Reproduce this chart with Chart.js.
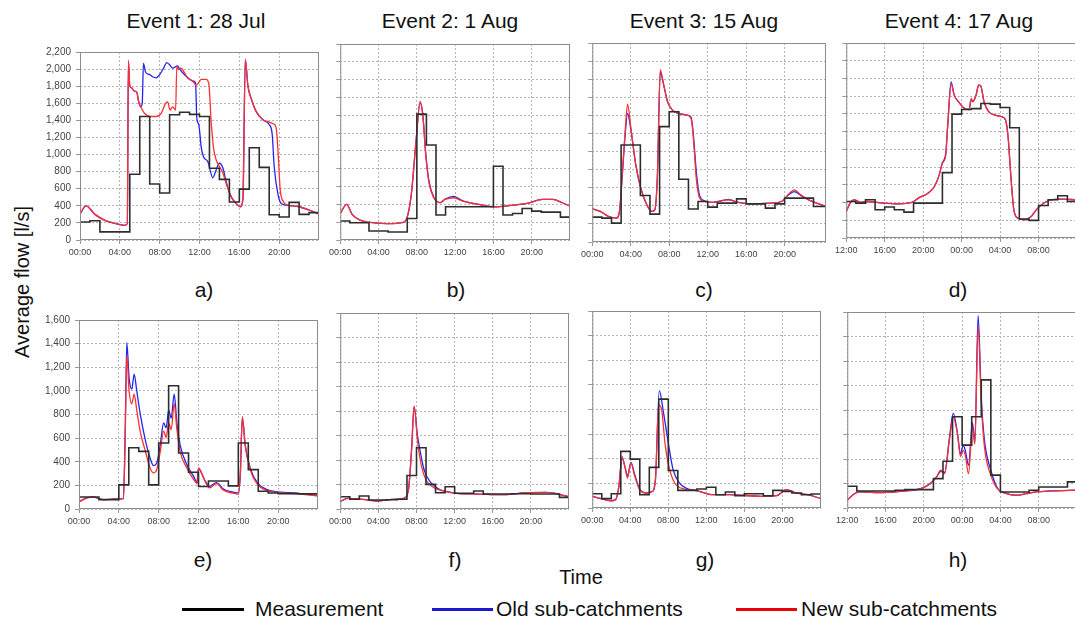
<!DOCTYPE html>
<html>
<head>
<meta charset="utf-8">
<script src="https://cdn.jsdelivr.net/npm/chart.js@4.4.1/dist/chart.umd.min.js"></script>
<style>
  body { margin: 0; background: #fff; font-family: "Liberation Sans", Arial, sans-serif; }
  #page { position: relative; width: 1075px; height: 623px; overflow: hidden; background: #fff; }
  canvas { position: absolute; }
  .t { position: absolute; color: #111; white-space: nowrap; transform: translate(-50%, -50%); font-size: 21px; }
  .leg { position: absolute; height: 3px; top: 608px; }
</style>
</head>
<body>
<div id="page">
  <div class="t" style="left:196px;top:21px">Event 1: 28 Jul</div>
  <div class="t" style="left:450px;top:21px">Event 2: 1 Aug</div>
  <div class="t" style="left:704px;top:21px">Event 3: 15 Aug</div>
  <div class="t" style="left:959px;top:21px">Event 4: 17 Aug</div>

  <div class="t" style="left:22px;top:282px;font-size:20px;transform:translate(-50%,-50%) rotate(-90deg)">Average flow [l/s]</div>

  <div class="t" style="left:204px;top:290px">a)</div>
  <div class="t" style="left:456px;top:290px">b)</div>
  <div class="t" style="left:704px;top:290px">c)</div>
  <div class="t" style="left:958px;top:290px">d)</div>
  <div class="t" style="left:203px;top:560px">e)</div>
  <div class="t" style="left:455px;top:560px">f)</div>
  <div class="t" style="left:705px;top:560px">g)</div>
  <div class="t" style="left:958px;top:560px">h)</div>

  <div class="t" style="left:581px;top:577px;font-size:20px">Time</div>

  <div class="leg" style="left:182px;width:62px;background:#000"></div>
  <div class="t" style="left:255px;top:609px;transform:translate(0,-50%)">Measurement</div>
  <div class="leg" style="left:432px;width:61px;background:#1a1acc"></div>
  <div class="t" style="left:496px;top:609px;transform:translate(0,-50%)">Old sub-catchments</div>
  <div class="leg" style="left:736px;width:61px;background:#e8000b"></div>
  <div class="t" style="left:801px;top:609px;transform:translate(0,-50%)">New sub-catchments</div>
</div>

<script>
// measured hourly averages (one value per hour, step line)
const measA = [210,225,95,95,95,770,1445,655,550,1465,1495,1470,1445,840,710,445,595,1080,850,295,270,440,300,320];
const measB = [213,194,194,101,101,90,90,242,1413,1066,280,373,373,373,373,373,828,280,298,354,324,313,313,257];
const measC = [275,264,209,1072,1072,514,308,1275,1440,694,364,448,386,430,430,477,422,422,375,422,485,485,485,393];
const measD = [412,394,431,319,349,319,292,394,394,394,738,1398,1450,1460,1518,1510,1473,1244,214,199,367,431,476,412];
const measE = [101,101,79,79,204,518,488,204,559,1044,474,311,191,237,237,196,559,333,150,135,130,130,128,128];
const measF = [100,79,106,73,73,75,80,274,500,201,133,182,128,128,147,122,122,122,125,125,122,122,122,95];
const measG = [116,76,116,460,397,108,330,884,305,143,143,154,168,108,130,100,116,116,100,143,135,122,108,114];
const measH = [177,139,139,139,139,145,150,150,150,240,382,745,513,745,1046,268,131,131,131,145,172,172,172,213];

// model results, [hour, flow]
const oldA = [[0,302],[0.6,400],[1.5,300],[2.5,230],[3.5,195],[4.45,172],[4.75,190],[4.86,2098],[5.0,1804],[5.2,1780],[5.4,1747],[5.7,1729],[5.9,1615],[6.1,1559],[6.25,1600],[6.37,2068],[6.6,1960],[7.0,1936],[7.3,1910],[7.64,1898],[8.0,1936],[8.4,2012],[8.7,2076],[9.0,2050],[9.3,2012],[9.8,2038],[10.0,2000],[10.66,1917],[11.3,1861],[11.6,1842],[11.73,1427],[11.93,1351],[12.17,1087],[12.4,974],[12.84,917],[13.34,728],[13.68,823],[14.0,898],[14.35,842],[14.7,672],[15.2,502],[15.7,426],[16.1,389],[16.36,483],[16.6,2113],[16.86,1804],[17.2,1653],[17.7,1502],[18.37,1408],[19.0,1351],[19.3,1238],[19.5,860],[19.9,521],[20.2,426],[20.7,408],[22.0,389],[23.0,351],[24,302]];
const newA = [[0,302],[0.6,400],[1.5,300],[2.5,230],[3.5,195],[4.45,172],[4.75,190],[4.86,2098],[5.0,1804],[5.2,1780],[5.4,1747],[5.7,1729],[5.9,1615],[6.1,1559],[6.47,1483],[7.0,1445],[7.64,1445],[8.15,1483],[8.58,1596],[8.8,1615],[9.05,1521],[9.3,1559],[9.6,1521],[9.72,2030],[9.9,1993],[10.15,2012],[10.5,1955],[10.8,1898],[11.3,1861],[11.67,1812],[11.93,1842],[12.17,1880],[12.67,1880],[12.94,1823],[13.17,1389],[13.4,1087],[13.68,936],[14.0,860],[14.35,785],[14.7,653],[15.2,502],[15.7,426],[16.1,389],[16.36,483],[16.6,2113],[16.86,1804],[17.2,1653],[17.7,1502],[18.37,1408],[19.0,1380],[19.4,1360],[19.7,1313],[19.9,1011],[20.1,596],[20.45,445],[20.9,408],[22.0,389],[23.0,351],[24,302]];

const oldB = [[0,298],[0.67,399],[1.24,287],[2.07,224],[3.4,194],[5.4,183],[6.4,194],[6.9,231],[7.4,492],[7.93,1126],[8.33,1540],[8.6,1430],[8.94,960],[9.27,660],[9.77,480],[10.44,420],[10.95,460],[11.85,490],[12.8,440],[14.46,399],[16.1,373],[17.8,388],[19.5,410],[21.15,455],[22.2,455],[23.2,418],[24,380]];
const newB = [[0,298],[0.67,399],[1.24,287],[2.07,224],[3.4,194],[5.4,183],[6.4,194],[6.9,231],[7.4,492],[7.93,1126],[8.33,1555],[8.6,1424],[8.94,940],[9.27,641],[9.77,474],[10.44,418],[10.95,455],[11.85,474],[12.8,436],[14.46,399],[16.1,373],[17.8,388],[19.5,410],[21.15,455],[22.2,455],[23.2,418],[24,380]];

const oldC = [[0,367],[0.83,338],[1.67,283],[2.5,264],[2.83,338],[3.1,700],[3.43,1200],[3.67,1421],[4.0,1250],[4.5,870],[5.0,613],[5.67,411],[6.17,338],[6.5,356],[6.77,724],[7.07,1880],[7.43,1734],[7.83,1550],[8.33,1458],[9.0,1421],[9.83,1403],[10.27,1380],[10.5,1200],[10.83,760],[11.17,510],[11.67,455],[12.5,437],[14.17,470],[15.17,437],[16.5,422],[18.5,430],[19.67,448],[20.5,530],[21.0,558],[21.67,515],[22.5,466],[24.3,393]];
const newC = [[0,367],[0.83,338],[1.67,283],[2.5,264],[2.83,338],[3.1,724],[3.43,1238],[3.67,1524],[4.0,1275],[4.5,870],[5.0,613],[5.67,411],[6.17,338],[6.5,356],[6.77,724],[7.07,1906],[7.43,1734],[7.83,1550],[8.33,1458],[9.0,1421],[9.83,1403],[10.27,1366],[10.5,1164],[10.83,687],[11.17,485],[11.67,448],[12.5,437],[14.17,466],[15.17,437],[16.5,422],[18.5,430],[19.67,448],[20.5,540],[21.0,577],[21.67,522],[22.5,466],[24.3,393]];

const oldD = [[0,300],[0.5,412],[0.83,431],[1.5,401],[2.17,412],[3.83,394],[5.5,386],[6.83,401],[7.5,450],[8.5,506],[9.17,581],[9.67,712],[10.0,850],[10.33,940],[10.57,1300],[10.9,1760],[11.23,1612],[11.67,1537],[12.17,1473],[12.77,1450],[13.0,1560],[13.17,1537],[13.5,1612],[13.77,1724],[14.0,1713],[14.33,1537],[14.83,1424],[15.5,1387],[16.17,1368],[16.57,1331],[16.83,1143],[17.1,731],[17.43,319],[17.83,225],[18.5,206],[19.17,236],[19.83,326],[20.83,412],[22.17,439],[24,431]];
const newD = [[0,300],[0.5,412],[0.83,431],[1.5,401],[2.17,412],[3.83,394],[5.5,386],[6.83,401],[7.5,450],[8.5,506],[9.17,581],[9.67,712],[10.0,843],[10.33,918],[10.57,1293],[10.9,1735],[11.23,1612],[11.67,1537],[12.17,1473],[12.77,1450],[13.0,1574],[13.17,1537],[13.5,1612],[13.77,1724],[14.0,1713],[14.33,1537],[14.83,1424],[15.5,1387],[16.17,1368],[16.57,1331],[16.83,1143],[17.1,731],[17.43,319],[17.83,225],[18.5,206],[19.17,236],[19.83,326],[20.83,412],[22.17,439],[24,431]];

const oldE = [[0,60],[0.77,95],[1.44,101],[2.45,79],[3.8,85],[4.46,87],[4.63,619],[4.8,1409],[5.03,1110],[5.3,1014],[5.54,1142],[5.8,1000],[6.14,810],[6.64,592],[7.15,428],[7.48,368],[7.8,387],[8.15,537],[8.5,728],[8.76,687],[9.0,837],[9.26,769],[9.56,973],[9.83,728],[10.17,537],[10.84,373],[11.5,278],[11.85,224],[12.0,346],[12.18,324],[12.68,237],[13.1,191],[13.8,224],[14.5,169],[15.5,142],[16.0,134],[16.2,292],[16.4,769],[16.7,537],[17.2,346],[17.9,224],[18.9,164],[20.2,142],[21.6,136],[24,114]];
const newE = [[0,60],[0.77,95],[1.44,101],[2.45,79],[3.8,85],[4.46,87],[4.63,560],[4.8,1300],[5.03,1000],[5.3,891],[5.54,973],[5.8,837],[6.14,660],[6.64,496],[7.15,346],[7.48,305],[7.8,333],[8.15,482],[8.5,660],[8.76,605],[9.0,728],[9.26,673],[9.56,891],[9.83,673],[10.17,482],[10.84,346],[11.5,251],[11.85,215],[12.0,346],[12.18,330],[12.68,230],[13.1,180],[13.8,215],[14.5,160],[15.5,133],[16.0,125],[16.2,300],[16.4,782],[16.7,530],[17.2,330],[17.9,210],[18.9,155],[20.2,138],[21.6,130],[24,110]];

const oldF = [[0,60],[0.77,87],[2.1,81],[3.8,65],[5.47,79],[6.64,87],[7.15,155],[7.48,481],[7.75,835],[8.1,600],[8.3,508],[8.8,318],[9.5,215],[10.3,165],[10.84,147],[12.2,128],[14.5,122],[17.2,117],[19.56,133],[21.6,136],[22.9,122],[24,100]];
const newF = [[0,60],[0.77,87],[2.1,81],[3.8,65],[5.47,79],[6.64,87],[7.15,155],[7.48,481],[7.75,839],[8.1,562],[8.5,359],[9.0,236],[9.83,174],[10.84,147],[12.2,128],[14.5,122],[17.2,117],[19.56,133],[21.6,136],[22.9,122],[24,100]];

const oldG = [[0,95],[0.93,76],[1.95,59],[2.45,68],[2.8,176],[3.13,405],[3.46,330],[3.7,260],[4.07,370],[4.47,270],[4.98,155],[5.65,122],[6.32,135],[6.65,240],[7.05,954],[7.5,770],[8.0,527],[8.5,311],[9.2,200],[9.9,160],[11.0,141],[12.7,108],[14.4,108],[17.75,95],[19.4,100],[20.4,149],[21.4,122],[22.7,108],[24.06,76]];
const newG = [[0,95],[0.93,76],[1.95,59],[2.45,68],[2.8,176],[3.13,419],[3.46,324],[3.7,243],[4.07,365],[4.47,257],[4.98,149],[5.65,122],[6.32,135],[6.65,230],[6.98,838],[7.3,797],[7.65,527],[8.06,338],[8.67,203],[9.68,154],[11.0,141],[12.7,108],[14.4,108],[17.75,95],[19.4,100],[20.4,149],[21.4,122],[22.7,108],[24.06,76]];

const oldH = [[0,63],[0.67,112],[1.33,131],[3.67,126],[6.0,139],[7.67,158],[8.67,199],[9.33,254],[9.77,300],[10.17,290],[10.67,570],[11.07,773],[11.5,620],[11.83,440],[12.1,513],[12.33,470],[12.67,349],[13.07,696],[13.33,540],[13.67,1572],[14.0,900],[14.33,554],[15.0,308],[15.67,165],[16.67,117],[17.67,104],[18.67,117],[19.67,131],[21.33,139],[24,145]];
const newH = [[0,63],[0.67,112],[1.33,131],[3.67,126],[6.0,139],[7.67,158],[8.67,199],[9.33,254],[9.77,308],[10.17,281],[10.67,554],[11.07,740],[11.5,609],[11.83,420],[12.1,470],[12.33,430],[12.67,280],[13.07,660],[13.33,520],[13.67,1482],[14.0,860],[14.33,500],[15.0,268],[15.67,158],[16.67,117],[17.67,104],[18.67,117],[19.67,131],[21.33,139],[24,145]];

const xTicks = [0, 4, 8, 12, 16, 20];

// plot-area boxes [left, top, right, bottom] in page pixels
const panels = [
  {box: [80, 45, 319, 240], yMax: 2200, yLab: true,  start: 0,  xMax: 24,   meas: measA, old: oldA, nw: newA},
  {box: [331, 44, 570, 240], yMax: 2200, yLab: false, start: 0,  xMax: 24,   meas: measB, old: oldB, nw: newB},
  {box: [583, 43, 826, 242], yMax: 2200, yLab: false, start: 0,  xMax: 24.3, meas: measC, old: oldC, nw: newC},
  {box: [837, 43, 1077, 238], yMax: 2200, yLab: false, start: 12, xMax: 24,  meas: measD, old: oldD, nw: newD},
  {box: [79, 313, 318, 509], yMax: 1600, yLab: true,  start: 0,  xMax: 24,   meas: measE, old: oldE, nw: newE},
  {box: [331, 313, 569, 509], yMax: 1600, yLab: false, start: 0,  xMax: 24,   meas: measF, old: oldF, nw: newF},
  {box: [583, 311, 821, 508], yMax: 1600, yLab: false, start: 0,  xMax: 24.06, meas: measG, old: oldG, nw: newG},
  {box: [838, 312, 1077, 508], yMax: 1600, yLab: false, start: 12, xMax: 24, meas: measH, old: oldH, nw: newH}
];

// grey frame round each plot
const framePlugin = {
  id: 'frame',
  afterDatasetsDraw(chart) {
    const a = chart.chartArea;
    const ctx = chart.ctx;
    ctx.save();
    ctx.strokeStyle = '#8c8c8c';
    ctx.lineWidth = 1;
    ctx.strokeRect(a.left + 0.5, a.top + 0.5, a.right - a.left - 1, a.bottom - a.top - 1);
    ctx.restore();
  }
};

function stepPoints(vals, xMax) {
  let pts = vals.map((v, i) => ({x: i, y: v}));
  pts.push({x: xMax, y: vals[vals.length - 1]});
  return pts;
}

function pairPoints(pairs) {
  return pairs.map(p => ({x: p[0], y: p[1]}));
}

function hhmm(h) {
  return String(h).padStart(2, '0') + ':00';
}

const page = document.getElementById('page');

panels.forEach(p => {
  const [l, t, r, b] = p.box;
  const yw = p.yLab ? 48 : 5;
  const padTop = 4, padRight = 4, xh = 22;

  let canvas = document.createElement('canvas');
  canvas.width = (r - l) + yw + padRight;
  canvas.height = (b - t) + padTop + xh;
  canvas.style.left = (l - yw) + 'px';
  canvas.style.top = (t - padTop) + 'px';
  page.appendChild(canvas);

  new Chart(canvas, {
    type: 'line',
    data: {
      datasets: [
        {label: 'Measurement', data: stepPoints(p.meas, p.xMax), stepped: true,
         borderColor: '#2e2e2e', borderWidth: 1.6, pointRadius: 0},
        {label: 'New sub-catchments', data: pairPoints(p.nw), cubicInterpolationMode: 'monotone',
         borderColor: '#ff3030', borderWidth: 1.3, pointRadius: 0},
        {label: 'Old sub-catchments', data: pairPoints(p.old), cubicInterpolationMode: 'monotone',
         borderColor: '#2424f0', borderWidth: 1.3, pointRadius: 0}
      ]
    },
    options: {
      responsive: false,
      animation: false,
      events: [],
      layout: {autoPadding: false, padding: {top: padTop, right: padRight, left: 0, bottom: 0}},
      plugins: {legend: {display: false}, tooltip: {enabled: false}},
      scales: {
        x: {
          type: 'linear', min: 0, max: p.xMax,
          afterBuildTicks: s => { s.ticks = xTicks.map(v => ({value: v})); },
          afterFit: s => { s.height = xh; },
          ticks: {
            autoSkip: false, maxRotation: 0, padding: 3,
            color: '#444', font: {family: 'Liberation Sans', size: 9},
            callback: v => hhmm((p.start + v) % 24)
          },
          grid: {color: '#b4b4b4', lineWidth: 1, tickLength: 4, tickColor: '#999'},
          border: {display: false, dash: [2, 2]}
        },
        y: {
          min: 0, max: p.yMax,
          afterFit: s => { s.width = yw; },
          ticks: {
            stepSize: 200, display: p.yLab, padding: 5,
            color: '#444', font: {family: 'Liberation Sans', size: 10},
            callback: v => v.toLocaleString('en-US')
          },
          grid: {color: '#b4b4b4', lineWidth: 1, tickLength: 4, tickColor: '#999'},
          border: {display: false, dash: [2, 2]}
        }
      }
    },
    plugins: [framePlugin]
  });
});
</script>
</body>
</html>
